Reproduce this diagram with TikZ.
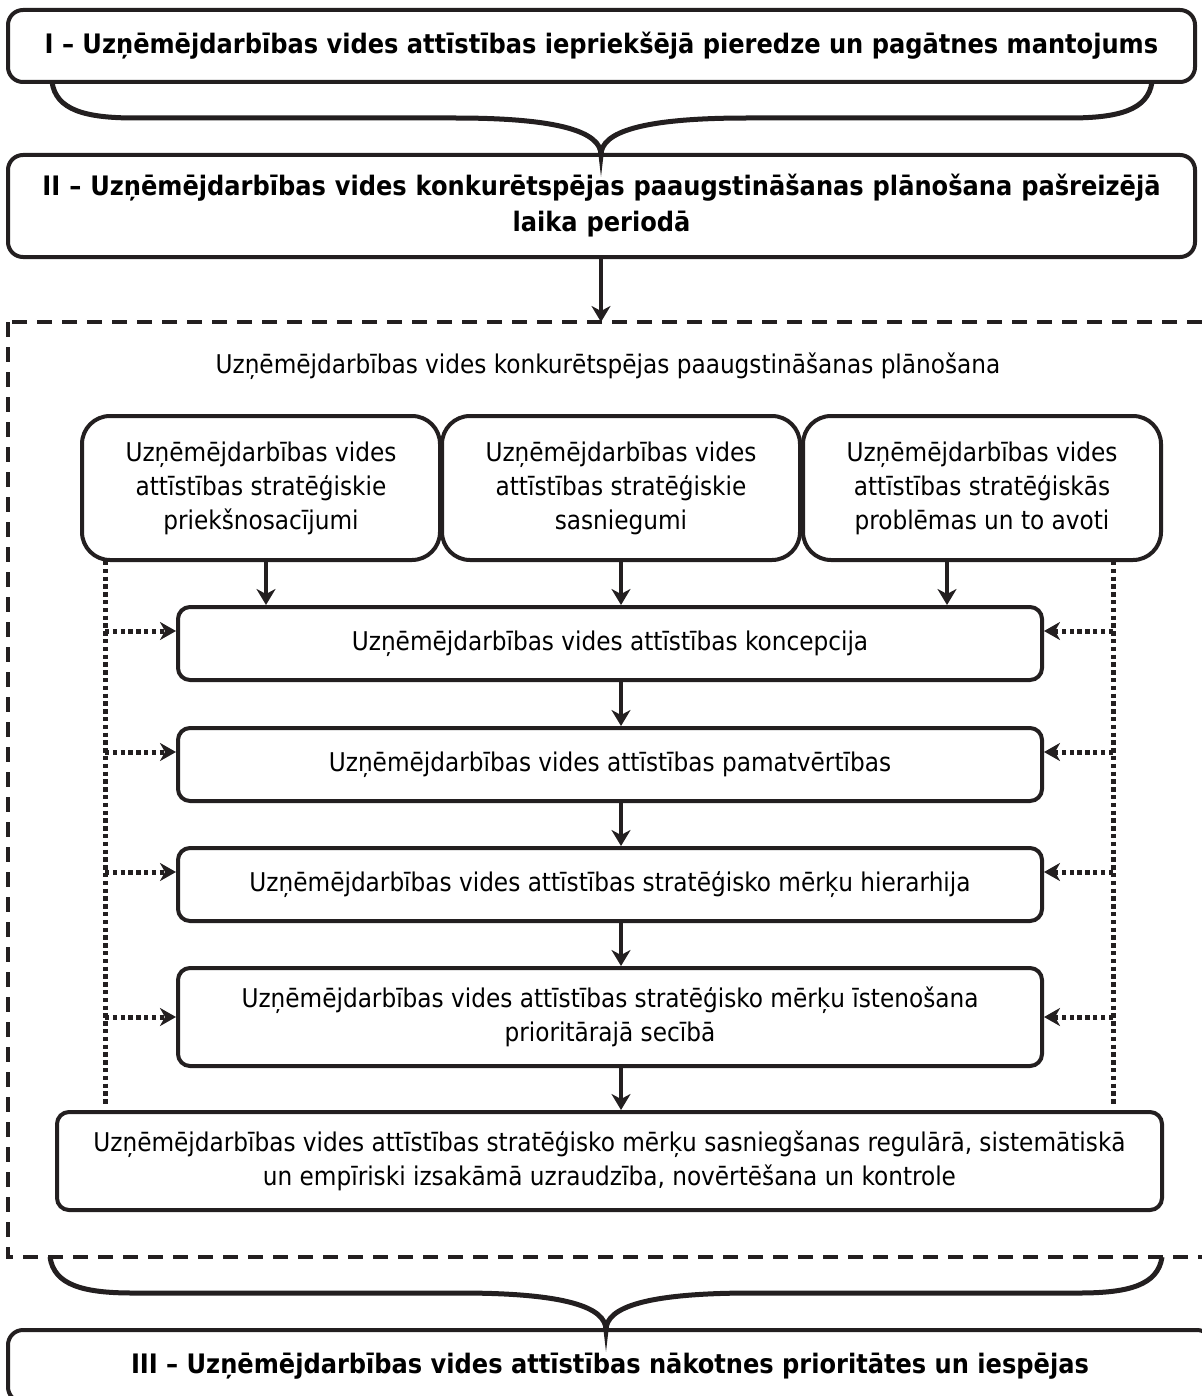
\documentclass[tikz,border=0pt]{standalone}
\usepackage{fontspec}
\setmainfont{DejaVu Sans Condensed}
\usetikzlibrary{arrows.meta}
\definecolor{ink}{HTML}{231F20}
\begin{document}
\begin{tikzpicture}[x=0.5pt,y=-0.5pt,
  basebox/.style={draw=ink, line width=2pt, align=center, inner sep=0pt, text=black},
  hbox/.style={basebox, rounded corners=7.5pt, font=\bfseries\fontsize{13.4}{18}\selectfont},
  topbox/.style={basebox, rounded corners=14pt, minimum width=179pt, minimum height=72pt, font=\fontsize{12.9}{17}\selectfont},
  rowbox/.style={basebox, rounded corners=6pt, minimum width=432pt, minimum height=36.5pt, font=\fontsize{12.9}{17}\selectfont},
  flow/.style={draw=ink, line width=2.3pt, -{Stealth[length=8pt,width=9.5pt,inset=2.5pt]}},
  dotflow/.style={draw=ink, line width=2.5pt, dash pattern=on 2.2pt off 1.7pt, -{Stealth[length=8pt,width=9pt,inset=2.5pt]}},
  dotline/.style={draw=ink, line width=2.5pt, dash pattern=on 2.2pt off 1.7pt},
  frame/.style={draw=ink, line width=1.8pt, dash pattern=on 7.5pt off 5pt},
  brace/.style={draw=ink, line width=2.5pt}]
\clip (0,0) rectangle (1202,1396);
% top level boxes
\node[hbox, minimum width=593.5pt, minimum height=36pt] (b1) at (601.5,46)
  {I – Uzņēmējdarbības vides attīstības iepriekšējā pieredze un pagātnes mantojums};
\node[hbox, minimum width=593.5pt, minimum height=51pt, text width=590pt] (b2) at (601.5,206)
  {II – Uzņēmējdarbības vides konkurētspējas paaugstināšanas plānošana pašreizējā\\laika periodā};
% brace 1
\coordinate (br1a) at (52,82);
\coordinate (br1t) at (601,155);
\coordinate (br1b) at (1152,82);
\draw[brace] (br1a) .. controls (56,110) and (85,118) .. (135,118) -- (455,118)
  .. controls (560,118) and (601,132) .. (br1t)
  .. controls (601,132) and (642,118) .. (747,118) -- (1069,118)
  .. controls (1119,118) and (1148,110) .. (br1b);
% dashed frame
\draw[frame] (8,322) rectangle (1220,1257);
\coordinate (ftop) at (601,322);
\draw[flow] (b2.south -| ftop) -- (ftop);
\node[font=\fontsize{12.9}{17}\selectfont] (ttl) at (608,366) {Uzņēmējdarbības vides konkurētspējas paaugstināšanas plānošana};
% three top boxes
\node[topbox] (p1) at (261,488) {Uzņēmējdarbības vides\\attīstības stratēģiskie\\priekšnosacījumi};
\node[topbox] (p2) at (621,488) {Uzņēmējdarbības vides\\attīstības stratēģiskie\\sasniegumi};
\node[topbox] (p3) at (982,488) {Uzņēmējdarbības vides\\attīstības stratēģiskās\\problēmas un to avoti};
% rows
\node[rowbox] (c1) at (610,643.5) {Uzņēmējdarbības vides attīstības koncepcija};
\node[rowbox] (c2) at (610,764.5) {Uzņēmējdarbības vides attīstības pamatvērtības};
\node[rowbox] (c3) at (610,884.5) {Uzņēmējdarbības vides attīstības stratēģisko mērķu hierarhija};
\node[rowbox, minimum height=49pt] (c4) at (610,1017) {Uzņēmējdarbības vides attīstības stratēģisko mērķu īstenošana\\prioritārajā secībā};
\node[basebox, rounded corners=6pt, minimum width=552.5pt, minimum height=49pt, font=\fontsize{12.9}{17}\selectfont] (c5) at (609.5,1161)
  {Uzņēmējdarbības vides attīstības stratēģisko mērķu sasniegšanas regulārā, sistemātiskā\\un empīriski izsakāmā uzraudzība, novērtēšana un kontrole};
% arrows from top boxes
\draw[flow] ([xshift=2.5pt]p1.south) -- ([xshift=2.5pt]p1.south |- c1.north);
\draw[flow] (p2.south) -- (p2.south |- c1.north);
\draw[flow] ([xshift=-17.5pt]p3.south) -- ([xshift=-17.5pt]p3.south |- c1.north);
% vertical chain
\coordinate (vx) at (621,0);
\draw[flow] (c1.south -| vx) -- (c2.north -| vx);
\draw[flow] (c2.south -| vx) -- (c3.north -| vx);
\draw[flow] (c3.south -| vx) -- (c4.north -| vx);
\draw[flow] (c4.south -| vx) -- (c5.north -| vx);
% dotted feedback lines
\coordinate (dla) at (105,561);
\coordinate (dlb) at (105,1106);
\coordinate (dra) at (1113,561);
\coordinate (drb) at (1113,1106);
\draw[dotline] (dla) -- (dlb);
\draw[dotline] (dra) -- (drb);
\coordinate (y1) at (0,631);
\coordinate (y2) at (0,752);
\coordinate (y3) at (0,872);
\coordinate (y4) at (0,1017);
\foreach \r/\n in {y1/c1,y2/c2,y3/c3,y4/c4}{
  \draw[dotflow] (dla |- \r) -- (\n.west |- \r);
  \draw[dotflow] (dra |- \r) -- (\n.east |- \r);
}
% brace 2
\coordinate (br2a) at (50,1257);
\coordinate (br2t) at (606,1330);
\coordinate (br2b) at (1162,1257);
\draw[brace] (br2a) .. controls (54,1285) and (83,1293) .. (133,1293) -- (460,1293)
  .. controls (565,1293) and (606,1307) .. (br2t)
  .. controls (606,1307) and (647,1293) .. (752,1293) -- (1079,1293)
  .. controls (1129,1293) and (1158,1285) .. (br2b);
% box III
\node[hbox, minimum width=602pt, minimum height=36pt] (b3) at (610,1366)
  {III – Uzņēmējdarbības vides attīstības nākotnes prioritātes un iespējas};
\end{tikzpicture}
\end{document}
